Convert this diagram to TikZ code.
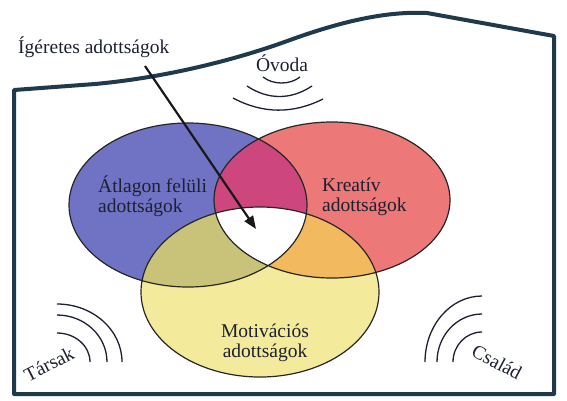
\documentclass[tikz,border=0pt]{standalone}
\usepackage{fontspec}
\setmainfont{Liberation Serif}
\usetikzlibrary{arrows.meta}
\definecolor{frameblue}{HTML}{1F3A4D}
\definecolor{inkdark}{HTML}{1C2030}
\definecolor{vblue}{RGB}{112,115,196}
\definecolor{vred}{RGB}{236,120,120}
\definecolor{vyellow}{RGB}{243,235,155}
\definecolor{vmagenta}{RGB}{205,70,125}
\definecolor{volive}{RGB}{200,195,120}
\definecolor{vorange}{RGB}{243,185,95}
\begin{document}
\begin{tikzpicture}[x=1pt,y=-1pt,
  label text/.style={font=\fontsize{19.5}{20.5}\selectfont,text=inkdark,inner sep=0pt},
  wave/.style={draw=inkdark,line width=1.3pt},
  venn/.style={draw=black!85,line width=1.2pt}]

  \useasboundingbox (0,0) rectangle (567,400);

  \def\blueset{(188,205) ellipse [x radius=119pt,y radius=82pt]}
  \def\redset{(332,200) ellipse [x radius=118pt,y radius=78pt]}
  \def\yellowset{(260,292) ellipse [x radius=119pt,y radius=85pt]}

  \fill[vblue] \blueset;
  \fill[vred] \redset;
  \fill[vyellow] \yellowset;
  \begin{scope}
    \clip \blueset;
    \fill[vmagenta] \redset;
    \fill[volive] \yellowset;
  \end{scope}
  \begin{scope}
    \clip \redset;
    \fill[vorange] \yellowset;
  \end{scope}
  \begin{scope}
    \clip \blueset;
    \clip \redset;
    \fill[white] \yellowset;
  \end{scope}
  \draw[venn] \blueset \redset \yellowset;

  \draw[frameblue,line width=4pt,line join=round] (14,90) -- (95,84)
    .. controls (160,78) and (230,62) .. (290,40)
    .. controls (340,22) and (385,11) .. (427,13)
    -- (554,36) -- (554,394) -- (14,394) -- cycle;

  \node[label text,anchor=base west] (igeretes) at (18,53) {Ígéretes adottságok};
  \node[label text,anchor=base] (ovoda) at (282,71) {Óvoda};
  \node[label text,align=left,anchor=west] (atlag) at (98,196) {Átlagon felüli\\adottságok};
  \node[label text,align=left,anchor=west] (kreativ) at (322,197) {Kreatív\\adottságok};
  \node[label text,align=center] (motiv) at (265,343) {Motivációs\\adottságok};
  \node[label text,rotate=27] (tarsak) at (49,364) {Társak};
  \node[label text,rotate=-28] (csalad) at (497,362) {Család};

  \coordinate (promise) at (145,66);
  \coordinate (core) at (256,229);
  \draw[line width=2.2pt,draw=black!90,-{Triangle[length=13pt,width=10pt]}] (promise) -- (core);

  \draw[wave] (263,77) .. controls (273,85) and (290,85) .. (300,77);
  \draw[wave] (247,86) .. controls (268,100) and (291,100) .. (312,86);
  \draw[wave] (233,98) .. controls (263,114) and (293,114) .. (323,99);

  \draw[wave] (57,304) arc[start angle=90,end angle=0,x radius=65pt,y radius=58pt];
  \draw[wave] (57,315) arc[start angle=90,end angle=0,x radius=50pt,y radius=47pt];
  \draw[wave] (57,333) arc[start angle=90,end angle=0,x radius=33pt,y radius=29pt];

  \draw[wave] (482,296) arc[start angle=90,end angle=180,x radius=57pt,y radius=66pt];
  \draw[wave] (482,314) arc[start angle=90,end angle=180,x radius=45pt,y radius=48pt];
  \draw[wave] (482,332) arc[start angle=90,end angle=180,x radius=29pt,y radius=30pt];
\end{tikzpicture}
\end{document}
